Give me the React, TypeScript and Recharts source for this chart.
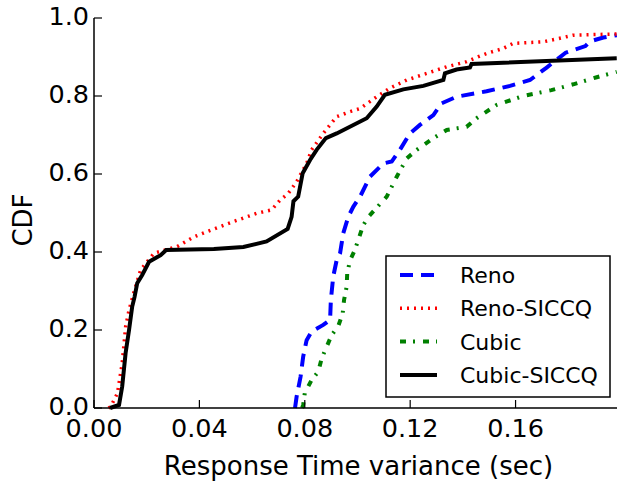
import { LineChart, Line, XAxis, YAxis, Legend } from 'recharts';

const FONT = '"DejaVu Sans", sans-serif';

const xTicks = [0, 0.04, 0.08, 0.12, 0.16];
const yTicks = [0, 0.2, 0.4, 0.6, 0.8, 1.0];

// Reno
const renoX = [0.0763, 0.0769, 0.0784, 0.0794, 0.0807, 0.0826, 0.087, 0.0896, 0.0899, 0.0908, 0.0921, 0.0934, 0.0946, 0.0965, 0.0984, 0.101, 0.1047, 0.1098, 0.113, 0.1161, 0.1199, 0.1237, 0.1288, 0.1319, 0.1376, 0.149, 0.1579, 0.1655, 0.1718, 0.179, 0.1865, 0.1882, 0.1933, 0.1984];
const renoY = [0, 0.029, 0.08, 0.132, 0.174, 0.196, 0.213, 0.226, 0.277, 0.337, 0.379, 0.397, 0.448, 0.49, 0.516, 0.542, 0.593, 0.627, 0.632, 0.662, 0.704, 0.726, 0.751, 0.781, 0.798, 0.812, 0.826, 0.841, 0.873, 0.911, 0.928, 0.94, 0.95, 0.956];

// Reno-SICCQ
const renoSiccqX = [0.0055, 0.0063, 0.0089, 0.0107, 0.012, 0.0133, 0.0152, 0.0177, 0.0228, 0.0316, 0.038, 0.0443, 0.0529, 0.0617, 0.0674, 0.0706, 0.0737, 0.0769, 0.0807, 0.0826, 0.087, 0.0921, 0.0972, 0.101, 0.1073, 0.1123, 0.1187, 0.1263, 0.1339, 0.1414, 0.1459, 0.149, 0.1553, 0.1591, 0.1705, 0.1768, 0.1819, 0.1984];
const renoSiccqY = [0, 0.003, 0.038, 0.115, 0.208, 0.251, 0.298, 0.354, 0.397, 0.414, 0.439, 0.456, 0.478, 0.499, 0.508, 0.533, 0.55, 0.58, 0.627, 0.662, 0.704, 0.747, 0.76, 0.768, 0.798, 0.82, 0.841, 0.858, 0.875, 0.888, 0.901, 0.909, 0.922, 0.935, 0.939, 0.948, 0.956, 0.959];

// Cubic
const cubicX = [0.079, 0.0794, 0.08, 0.0826, 0.0851, 0.0864, 0.0883, 0.0902, 0.0927, 0.0944, 0.0949, 0.0959, 0.0961, 0.0972, 0.099, 0.1007, 0.1022, 0.1044, 0.1111, 0.1149, 0.1187, 0.1225, 0.1288, 0.1339, 0.1414, 0.1452, 0.1528, 0.1629, 0.1736, 0.1819, 0.1908, 0.1984];
const cubicY = [0, 0.008, 0.038, 0.072, 0.093, 0.127, 0.157, 0.187, 0.21, 0.243, 0.277, 0.311, 0.345, 0.379, 0.405, 0.439, 0.469, 0.492, 0.542, 0.593, 0.64, 0.662, 0.692, 0.713, 0.721, 0.743, 0.777, 0.8, 0.815, 0.83, 0.848, 0.862];

// Cubic-SICCQ
const cubicSiccqX = [0.0061, 0.0095, 0.0107, 0.012, 0.0133, 0.0145, 0.0154, 0.0164, 0.0183, 0.0209, 0.0253, 0.0274, 0.0455, 0.0567, 0.0655, 0.0735, 0.075, 0.0757, 0.0775, 0.0792, 0.082, 0.0845, 0.088, 0.0921, 0.1035, 0.1073, 0.1104, 0.1174, 0.125, 0.1326, 0.1332, 0.1376, 0.1427, 0.1433, 0.1984];
const cubicSiccqY = [0, 0.008, 0.055, 0.141, 0.2, 0.26, 0.285, 0.32, 0.341, 0.375, 0.392, 0.405, 0.408, 0.413, 0.427, 0.459, 0.49, 0.53, 0.542, 0.602, 0.636, 0.662, 0.692, 0.704, 0.743, 0.773, 0.803, 0.817, 0.826, 0.841, 0.858, 0.868, 0.873, 0.882, 0.897];

const toPoints = (xs: number[], ys: number[]) => xs.map((x, i) => ({ x, y: ys[i] }));

const series = [
  { name: 'Reno', data: toPoints(renoX, renoY), color: '#0000ff', dash: '13 8', width: 4 },
  { name: 'Reno-SICCQ', data: toPoints(renoSiccqX, renoSiccqY), color: '#ff0000', dash: '2 5', width: 3.5 },
  { name: 'Cubic', data: toPoints(cubicX, cubicY), color: '#008000', dash: '6 7 2 8', width: 4 },
  { name: 'Cubic-SICCQ', data: toPoints(cubicSiccqX, cubicSiccqY), color: '#000000', dash: undefined, width: 4 },
];

const BottomTick = ({ x, y, payload }: any) => (
  <g>
    <line x1={x} y1={y} x2={x} y2={y - 8} stroke="#000" strokeWidth={1.2} />
    <text x={x} y={y + 29} textAnchor="middle" fontSize={25.5} fontFamily={FONT} fill="#000">
      {Number(payload.value).toFixed(2)}
    </text>
  </g>
);

const TopTick = ({ x, y }: any) => (
  <line x1={x} y1={y} x2={x} y2={y + 8} stroke="#000" strokeWidth={1.2} />
);

const LeftTick = ({ x, y, payload }: any) => (
  <g>
    <line x1={x} y1={y} x2={x + 8} y2={y} stroke="#000" strokeWidth={1.2} />
    <text x={x - 5} y={y + 7} textAnchor="end" fontSize={25.5} fontFamily={FONT} fill="#000">
      {Number(payload.value).toFixed(1)}
    </text>
  </g>
);

const RightTick = ({ x, y }: any) => (
  <line x1={x} y1={y} x2={x - 8} y2={y} stroke="#000" strokeWidth={1.2} />
);

const LegendBox = () => (
  <svg width={226} height={143} style={{ display: 'block' }}>
    <rect x={1} y={1} width={224} height={141} fill="#fff" stroke="#000" strokeWidth={1.5} />
    {series.map((s, i) => {
      const cy = 20 + i * 33.3;
      return (
        <g key={s.name}>
          <line x1={15} y1={cy} x2={52} y2={cy} stroke={s.color} strokeWidth={s.width} strokeDasharray={s.dash} />
          <text x={75} y={cy + 8} fontSize={22} fontFamily={FONT} fill="#000">{s.name}</text>
        </g>
      );
    })}
  </svg>
);

const axisLine = { stroke: '#000', strokeWidth: 1.5 };

export default function App() {
  return (
    <div style={{ position: 'absolute', left: 0, top: 0, width: 618, height: 481, background: '#fff' }}>
      <LineChart width={618} height={481} margin={{ top: 18, right: 1, left: 0, bottom: 0 }}>
        <XAxis
          dataKey="x"
          type="number"
          domain={[0, 0.1985]}
          allowDataOverflow
          ticks={xTicks}
          height={73}
          tickSize={0}
          tickMargin={0}
          tickLine={false}
          axisLine={axisLine}
          tick={<BottomTick />}
          label={{
            content: ({ viewBox }: any) => (
              <text x={viewBox.x + viewBox.width / 2 + 3} y={viewBox.y + 67} textAnchor="middle" fontSize={26} fontFamily={FONT} fill="#000">
                Response Time variance (sec)
              </text>
            ),
          }}
        />
        <XAxis
          xAxisId="top"
          orientation="top"
          dataKey="x"
          type="number"
          domain={[0, 0.1985]}
          allowDataOverflow
          ticks={xTicks}
          height={0}
          tickSize={0}
          tickMargin={0}
          tickLine={false}
          axisLine={axisLine}
          tick={<TopTick />}
        />
        <YAxis
          type="number"
          domain={[0, 1]}
          ticks={yTicks}
          width={94}
          tickSize={0}
          tickMargin={0}
          tickLine={false}
          axisLine={axisLine}
          tick={<LeftTick />}
          label={{
            content: ({ viewBox }: any) => {
              const cx = viewBox.x + 23;
              const cy = viewBox.y + viewBox.height / 2 + 7;
              return (
                <text x={cx} y={cy} textAnchor="middle" dominantBaseline="central" transform={`rotate(-90 ${cx} ${cy})`} fontSize={26} fontFamily={FONT} fill="#000">
                  CDF
                </text>
              );
            },
          }}
        />
        <YAxis
          yAxisId="right"
          orientation="right"
          type="number"
          domain={[0, 1]}
          ticks={yTicks}
          width={0}
          tickSize={0}
          tickMargin={0}
          tickLine={false}
          axisLine={axisLine}
          tick={<RightTick />}
        />
        {series.map((s) => (
          <Line
            key={s.name}
            data={s.data}
            dataKey="y"
            name={s.name}
            type="linear"
            stroke={s.color}
            strokeWidth={s.width}
            strokeDasharray={s.dash}
            dot={false}
            activeDot={false}
            isAnimationActive={false}
          />
        ))}
        <Legend
          layout="vertical"
          align="center"
          verticalAlign="middle"
          wrapperStyle={{ left: 385, top: 255, width: 226, height: 143 }}
          content={() => <LegendBox />}
        />
      </LineChart>
    </div>
  );
}
